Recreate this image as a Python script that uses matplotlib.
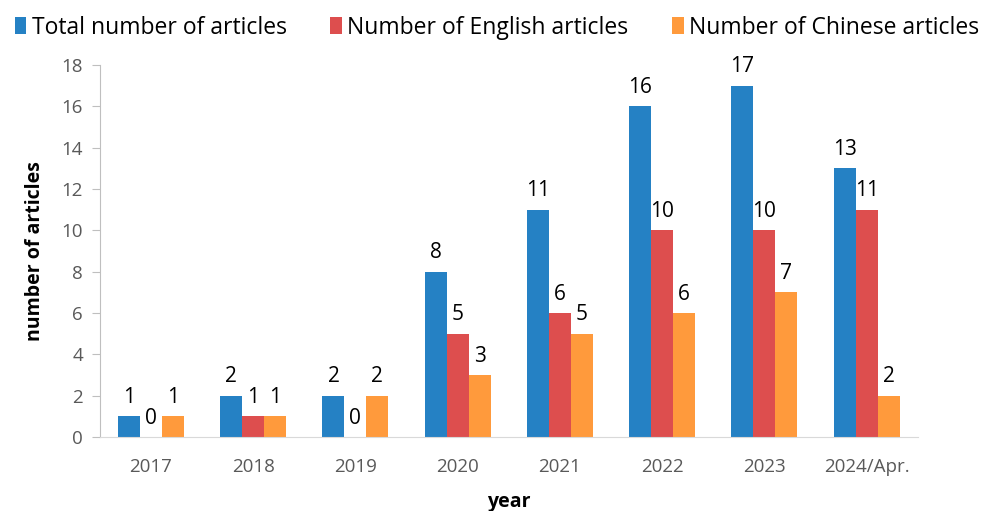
import matplotlib
matplotlib.use("Agg")
import matplotlib.pyplot as plt
import numpy as np

years = ["2017", "2018", "2019", "2020", "2021", "2022", "2023", "2024/Apr."]
total = [1, 2, 2, 8, 11, 16, 17, 13]
english = [0, 1, 0, 5, 6, 10, 10, 11]
chinese = [1, 1, 2, 3, 5, 6, 7, 2]
series_names = ["Total number of articles", "Number of English articles", "Number of Chinese articles"]
colors = ["#2581C4", "#DD4E4E", "#FF9A3C"]

plt.rcParams['font.family'] = ['Open Sans', 'DejaVu Sans']

fig = plt.figure(figsize=(9.88, 5.11), dpi=100)
ax = fig.add_axes([0.101, 0.145, 0.828, 0.728])

x = np.arange(len(years))
w = 0.215
for i, (vals, name, c) in enumerate(zip([total, english, chinese], series_names, colors)):
    pos = x + (i - 1) * w
    bars = ax.bar(pos, vals, width=w, color=c, label=name)
    for p, v in zip(pos, vals):
        ax.annotate(str(v), (p, v), xytext=(0, 6), textcoords="offset points",
                    ha="center", va="bottom", fontsize=15, color="black")

ax.set_xlim(-0.5, len(years) - 0.5)
ax.set_ylim(0, 18)
ax.set_yticks(range(0, 19, 2))
ax.set_xticks(x)
ax.set_xticklabels(years)
ax.tick_params(axis='x', length=0, pad=15, labelsize=13.5, colors="#595959")
ax.tick_params(axis='y', length=6, direction='out', labelsize=13.5, colors="#595959", pad=6)
ax.tick_params(axis='y', color="#BFBFBF")
for s in ["top", "right"]:
    ax.spines[s].set_visible(False)
ax.spines["left"].set_color("#BFBFBF")
ax.spines["bottom"].set_color("#D9D9D9")
ax.set_ylabel("number of articles", fontsize=14, fontweight="bold", labelpad=12)
ax.set_xlabel("year", fontsize=14, fontweight="bold", labelpad=12)

ax.legend(loc="upper center", bbox_to_anchor=(0.503, 1.01), bbox_transform=fig.transFigure,
          ncol=3, frameon=False, fontsize=16.5, handlelength=0.5, handleheight=0.7,
          handletextpad=0.25, columnspacing=1.9)

fig.savefig("out.png", dpi=100)
